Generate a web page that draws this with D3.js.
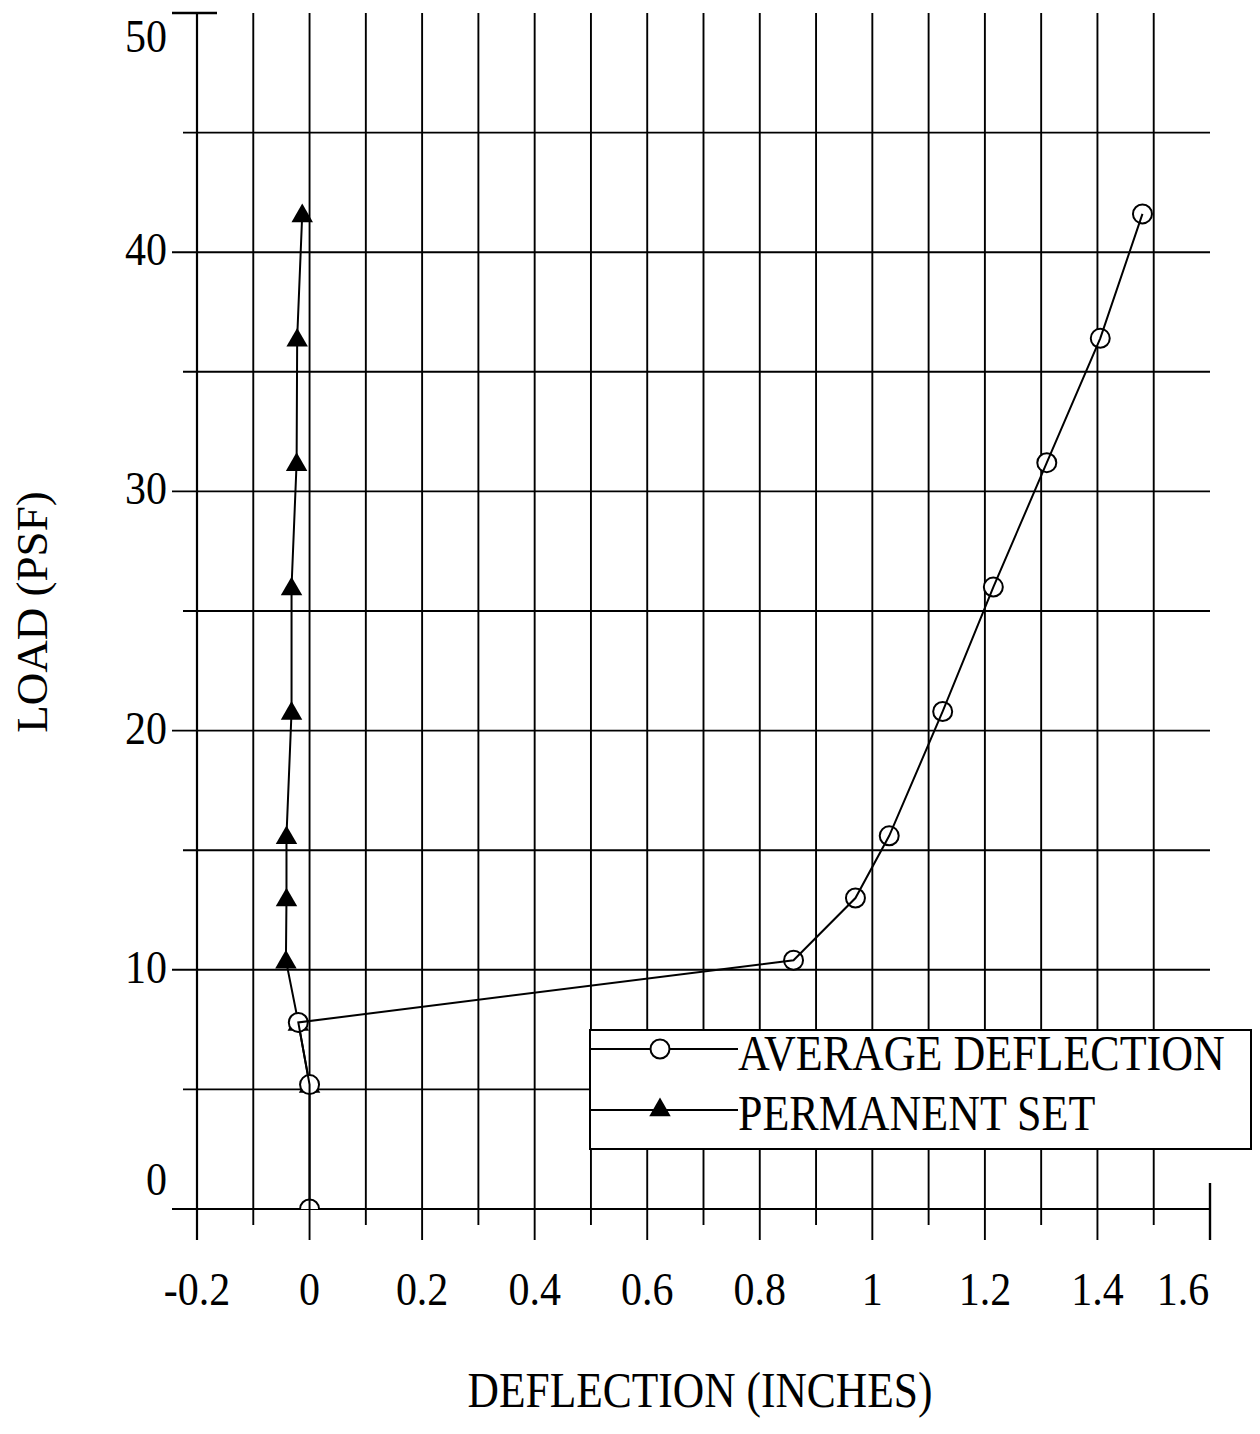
<!DOCTYPE html>
<html>
<head>
<meta charset="utf-8">
<script src="https://cdn.jsdelivr.net/npm/d3@7"></script>
<style>
  html, body { margin: 0; padding: 0; background: #fff; }
  svg { display: block; }
  text { font-family: "Liberation Serif", "Times New Roman", serif; fill: #000; }
</style>
</head>
<body>
<svg id="chart" width="1260" height="1434"></svg>
<script>
// ---- data ----
const xMajorTicks = [-0.2, 0, 0.2, 0.4, 0.6, 0.8, 1.0, 1.2, 1.4, 1.6];
const xTickLabels = ["-0.2", "0", "0.2", "0.4", "0.6", "0.8", "1", "1.2", "1.4", "1.6"];
const xMinorTicks = [-0.1, 0.1, 0.3, 0.5, 0.7, 0.9, 1.1, 1.3, 1.5];
const yMajorTicks = [0, 10, 20, 30, 40, 50];
const yTickLabels = ["0", "10", "20", "30", "40", "50"];
const yMinorTicks = [5, 15, 25, 35, 45];

const avgLoads = [0, 5.2, 7.8, 10.4, 13.0, 15.6, 20.8, 26.0, 31.2, 36.4, 41.6];
const avgDeflection = [0, 0, -0.02, 0.86, 0.97, 1.03, 1.125, 1.215, 1.31, 1.405, 1.48];
const permLoads = [5.2, 7.8, 10.4, 13.0, 15.6, 20.8, 26.0, 31.2, 36.4, 41.6];
const permSet = [0, -0.02, -0.042, -0.041, -0.041, -0.032, -0.032, -0.023, -0.022, -0.013];

const seriesNames = ["AVERAGE DEFLECTION", "PERMANENT SET"];
const xTitle = "DEFLECTION (INCHES)";
const yTitle = "LOAD (PSF)";

// ---- layout ----
const svg = d3.select("#chart");
const x = d3.scaleLinear().domain([-0.2, 1.6]).range([197, 1210]);
const y = d3.scaleLinear().domain([0, 50]).range([1209, 13]);
const x0 = x.range()[0], x1 = x.range()[1];
const yB = y.range()[0], yT = y.range()[1];
const lw = 1.9;

const grid = svg.append("g").attr("stroke", "#000").attr("stroke-width", lw);

// vertical grid lines (exclude right end 1.6, which only gets a stub)
const vMajor = xMajorTicks.filter(v => v < 1.55);
grid.selectAll("line.vmaj").data(vMajor).join("line")
  .attr("class", "vmaj")
  .attr("x1", d => x(d)).attr("x2", d => x(d))
  .attr("y1", yT).attr("y2", yB + 31);
grid.selectAll("line.vmin").data(xMinorTicks).join("line")
  .attr("class", "vmin")
  .attr("x1", d => x(d)).attr("x2", d => x(d))
  .attr("y1", yT).attr("y2", yB + 16);
// right end stub
grid.append("line")
  .attr("x1", x(1.6)).attr("x2", x(1.6))
  .attr("y1", yB - 26).attr("y2", yB + 31)
  .attr("stroke-width", 2.4);

// horizontal grid lines (exclude top end 50, which only gets a stub)
const hMajor = yMajorTicks.filter(v => v < 49);
grid.selectAll("line.hmaj").data(hMajor).join("line")
  .attr("class", "hmaj")
  .attr("x1", x0 - 25).attr("x2", x1)
  .attr("y1", d => y(d)).attr("y2", d => y(d));
grid.selectAll("line.hmin").data(yMinorTicks).join("line")
  .attr("class", "hmin")
  .attr("x1", x0 - 14).attr("x2", x1)
  .attr("y1", d => y(d)).attr("y2", d => y(d));
grid.append("line")
  .attr("x1", x0 - 25).attr("x2", x0 + 20)
  .attr("y1", y(50)).attr("y2", y(50))
  .attr("stroke-width", 2.4);

// axis lines a bit heavier
grid.append("line").attr("x1", x0).attr("x2", x0).attr("y1", yT).attr("y2", yB + 31).attr("stroke-width", 2.2);
grid.append("line").attr("x1", x0 - 25).attr("x2", x1).attr("y1", yB).attr("y2", yB).attr("stroke-width", 2.2);

// ---- tick labels ----
const tickFont = 42, tickSY = 1.1;
const xl = svg.append("g");
xl.selectAll("text").data(xMajorTicks).join("text")
  .attr("text-anchor", "middle")
  .attr("font-size", tickFont)
  .attr("transform", (d, i) => {
    const shift = (i === xMajorTicks.length - 1) ? -27 : 0;
    return `translate(${x(d) + shift},1305) scale(1,${tickSY})`;
  })
  .text((d, i) => xTickLabels[i]);

const yl = svg.append("g");
yl.selectAll("text").data(yMajorTicks).join("text")
  .attr("text-anchor", "end")
  .attr("font-size", tickFont)
  .attr("transform", (d, i) => {
    let shift = 13;
    if (i === 0) shift = -14;
    if (i === yMajorTicks.length - 1) shift = 39;
    return `translate(167,${y(d) + shift}) scale(1,${tickSY})`;
  })
  .text((d, i) => yTickLabels[i]);

// ---- axis titles ----
svg.append("text")
  .attr("text-anchor", "middle")
  .attr("font-size", 43.5)
  .attr("transform", `translate(700,1407) scale(1,1.15)`)
  .text(xTitle);
svg.append("text")
  .attr("text-anchor", "middle")
  .attr("font-size", 45)
  .attr("transform", `translate(47,612) rotate(-90)`)
  .text(yTitle);

// ---- data ----
svg.append("defs").append("clipPath").attr("id", "plotclip")
  .append("rect").attr("x", x0).attr("y", yT - 20).attr("width", x1 - x0 + 20).attr("height", yB - yT + 20);

const plot = svg.append("g").attr("clip-path", "url(#plotclip)");
const avgPts = avgLoads.map((l, i) => [avgDeflection[i], l]);
const permPts = permLoads.map((l, i) => [permSet[i], l]);
const line = d3.line().x(d => x(d[0])).y(d => y(d[1]));

const tri = d3.symbol().type(d3.symbolTriangle).size(200);

// permanent set first (underneath)
plot.append("path").datum(permPts).attr("d", line)
  .attr("fill", "none").attr("stroke", "#000").attr("stroke-width", 2);
plot.selectAll("path.tri").data(permPts).join("path")
  .attr("class", "tri")
  .attr("d", tri)
  .attr("transform", d => `translate(${x(d[0])},${y(d[1]) + 2})`)
  .attr("fill", "#000");

// average deflection: white-filled circles hide the triangles beneath, line drawn over
plot.selectAll("circle.avg").data(avgPts).join("circle")
  .attr("class", "avg")
  .attr("cx", d => x(d[0])).attr("cy", d => y(d[1]))
  .attr("r", 9.5)
  .attr("fill", "#fff").attr("stroke", "#000").attr("stroke-width", 2);
plot.append("path").datum(avgPts).attr("d", line)
  .attr("fill", "none").attr("stroke", "#000").attr("stroke-width", 2);

// ---- legend ----
const lg = svg.append("g");
lg.append("rect")
  .attr("x", 590).attr("y", 1030).attr("width", 661).attr("height", 119)
  .attr("fill", "#fff").attr("stroke", "#000").attr("stroke-width", 2);
const legendRows = [
  { name: seriesNames[0], ly: 1049, ty: 1070, kind: "circle" },
  { name: seriesNames[1], ly: 1110, ty: 1130, kind: "tri" }
];
legendRows.forEach(r => {
  lg.append("line").attr("x1", 590).attr("x2", 738).attr("y1", r.ly).attr("y2", r.ly)
    .attr("stroke", "#000").attr("stroke-width", 2);
  if (r.kind === "circle") {
    lg.append("circle").attr("cx", 660).attr("cy", r.ly).attr("r", 9.5)
      .attr("fill", "#fff").attr("stroke", "#000").attr("stroke-width", 2);
  } else {
    lg.append("path").attr("d", tri).attr("transform", `translate(660,${r.ly})`).attr("fill", "#000");
  }
  lg.append("text")
    .attr("font-size", 44)
    .attr("transform", `translate(738,${r.ty}) scale(1,1.14)`)
    .text(r.name);
});
</script>
</body>
</html>
